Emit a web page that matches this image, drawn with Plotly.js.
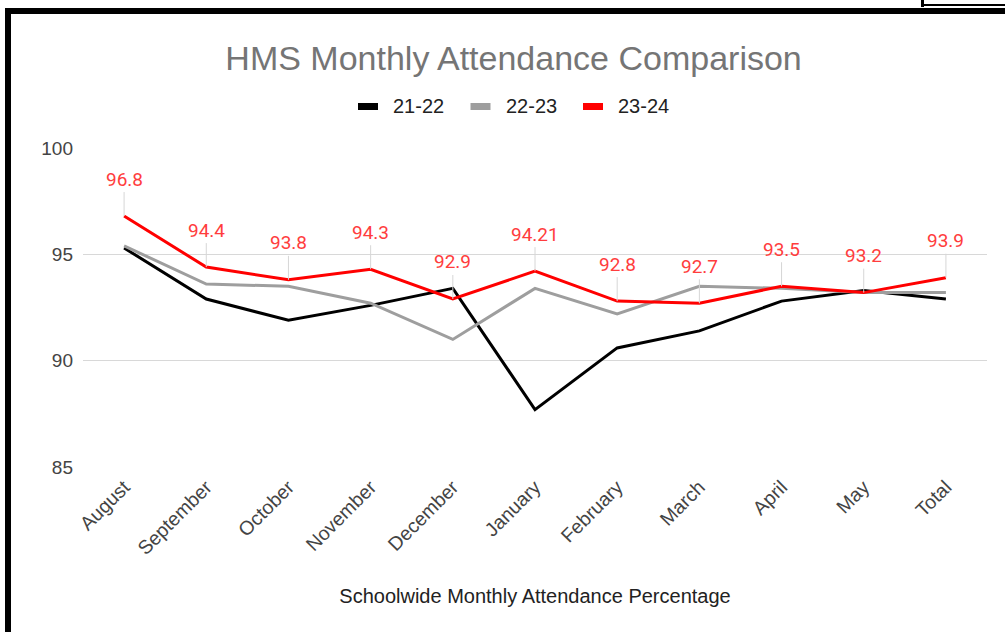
<!DOCTYPE html>
<html>
<head>
<meta charset="utf-8">
<script src="https://cdn.plot.ly/plotly-3.0.1.min.js"></script>
<style>
  html, body { margin: 0; padding: 0; background: #fff; }
  #chart { width: 1005px; height: 632px; position: absolute; left: 0; top: 0; }
  .bd { position: absolute; background: #000; }
</style>
</head>
<body>
<div id="chart"></div>
<div class="bd" style="left:5px; top:8px; width:1000px; height:6px;"></div>
<div class="bd" style="left:5px; top:8px; width:6px; height:624px;"></div>
<div class="bd" style="left:921px; top:0px; width:3px; height:7px;"></div>
<div class="bd" style="left:921px; top:4px; width:84px; height:2px;"></div>
<script>
const months = ['August','September','October','November','December','January','February','March','April','May','Total'];
const s2122 = [95.3, 92.9, 91.9, 92.6, 93.4, 87.7, 90.6, 91.4, 92.8, 93.3, 92.9];
const s2223 = [95.4, 93.6, 93.5, 92.7, 91.0, 93.4, 92.2, 93.5, 93.4, 93.2, 93.2];
const s2324 = [96.8, 94.4, 93.8, 94.3, 92.9, 94.21, 92.8, 92.7, 93.5, 93.2, 93.9];
const seriesNames = ['21-22', '22-23', '23-24'];
const seriesColors = ['#000000', '#9e9e9e', '#ff0000'];
const yTicks = [85, 90, 95, 100];

const FONT = 'Liberation Sans, Arial, sans-serif';
const allSeries = [s2122, s2223, s2324];
const traces = allSeries.map((s, i) => ({
  x: months, y: s, name: seriesNames[i], mode: 'lines',
  line: {color: seriesColors[i], width: 3}, showlegend: false
}));

// plot area in pixels (for converting legend placement into paper coords)
const PL = 83, PR = 987, PT = 148, PB = 467;
const px = v => (v - PL) / (PR - PL);
const py = v => (PB - v) / (PB - PT);

const annotations = months.map((m, i) => ({
  x: m, y: s2324[i], xref: 'x', yref: 'y',
  text: String(s2324[i]),
  showarrow: true, arrowhead: 0, arrowwidth: 1, arrowcolor: '#d6d6d6',
  ax: 0, ay: -37, standoff: 0,
  font: {family: 'Roboto, sans-serif', size: 19, color: '#ff3d3d'}
}));

const shapes = [];
seriesNames.forEach((n, i) => {
  const sx = 358 + i * 112.5;
  shapes.push({type: 'rect', xref: 'paper', yref: 'paper',
    x0: px(sx), x1: px(sx + 20), y0: py(110), y1: py(103),
    fillcolor: seriesColors[i], line: {width: 0}});
  annotations.push({xref: 'paper', yref: 'paper', x: px(sx + 33), y: py(106.5),
    xanchor: 'left', yanchor: 'middle', showarrow: false, text: n,
    font: {family: FONT, size: 20, color: '#222222'}});
});

const layout = {
  width: 1005, height: 632,
  margin: {l: PL, r: 1005 - PR, t: PT, b: 632 - PB},
  paper_bgcolor: '#ffffff', plot_bgcolor: '#ffffff',
  title: {
    text: 'HMS Monthly Attendance Comparison',
    font: {family: FONT, size: 34, color: '#757575'},
    xref: 'container', x: 0.511, xanchor: 'center',
    yref: 'container', y: 1 - 58/632, yanchor: 'middle'
  },
  showlegend: false,
  xaxis: {
    type: 'category', range: [-0.5, 10.5],
    showgrid: false, showline: false, zeroline: false, ticks: '',
    tickangle: -45, ticklabelstandoff: 4,
    tickfont: {family: FONT, size: 19.5, color: '#444444'},
    title: {text: 'Schoolwide Monthly Attendance Percentage', standoff: 31,
            font: {family: FONT, size: 20, color: '#222222'}},
    automargin: false, fixedrange: true
  },
  yaxis: {
    range: [85, 100], tickvals: yTicks, ticktext: yTicks.map(String),
    showgrid: true, gridcolor: '#d8d8d8', gridwidth: 1.6,
    zeroline: false, showline: false, ticks: '',
    ticklabelstandoff: 9,
    tickfont: {family: FONT, size: 19, color: '#444444'},
    automargin: false, fixedrange: true
  },
  shapes: shapes,
  annotations: annotations
};

Plotly.newPlot('chart', traces, layout, {staticPlot: true, displayModeBar: false});
</script>
</body>
</html>
